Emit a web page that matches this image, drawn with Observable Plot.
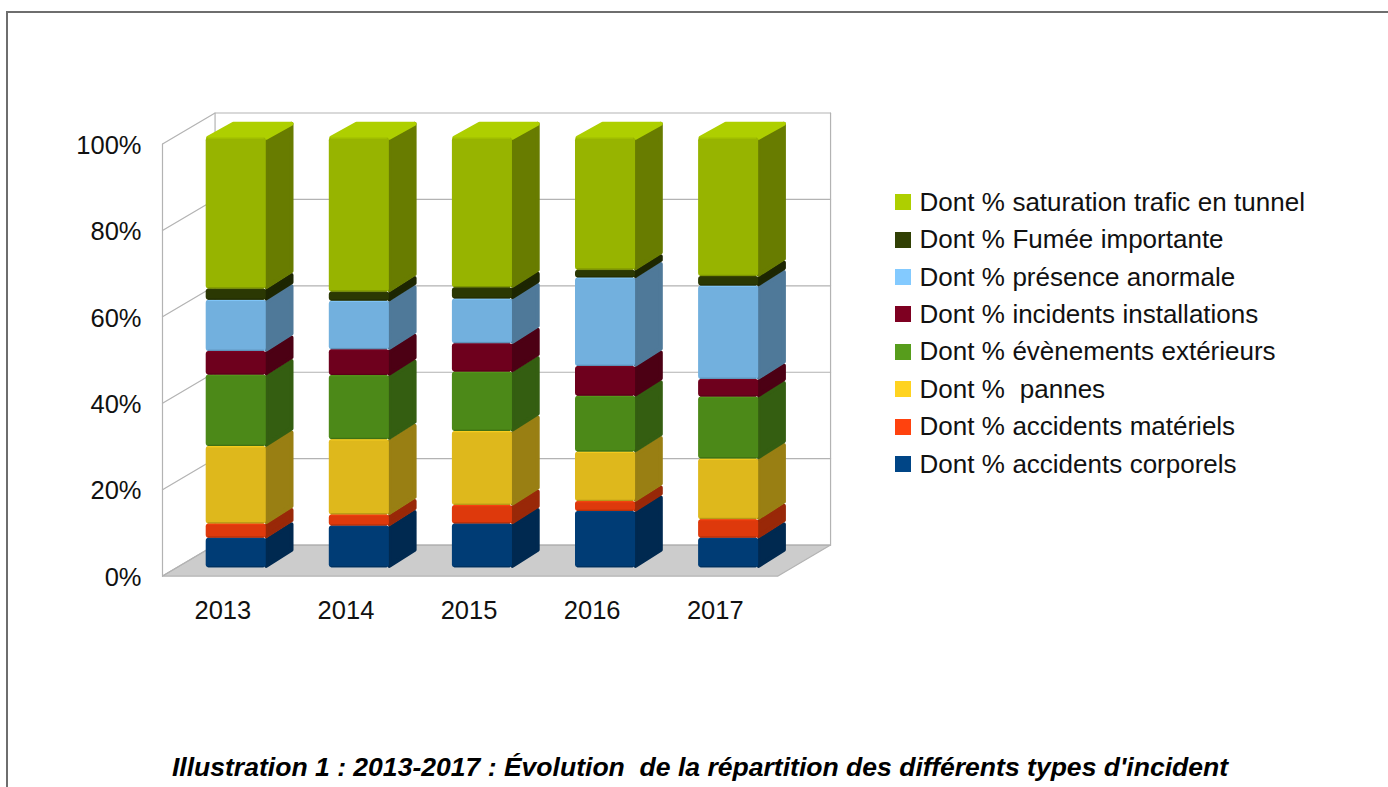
<!DOCTYPE html>
<html lang="fr">
<head>
<meta charset="utf-8">
<script src="https://cdn.jsdelivr.net/npm/d3@7"></script>
<script src="https://cdn.jsdelivr.net/npm/@observablehq/plot@0.6"></script>
<style>
  html, body { margin: 0; padding: 0; background: #fff; overflow: hidden; }
  body { width: 1388px; height: 787px; position: relative; font-family: "Liberation Sans", Arial, sans-serif; color: #000; }
  #frame { position: absolute; left: 6px; top: 11px; right: -4px; bottom: -4px; border: 2px solid #6e6e6e; }
  #chart { position: absolute; left: 0; top: 0; }
  #chart svg { display: block; overflow: visible; }
  #chart text { white-space: pre; }
  .soft { filter: blur(0.45px); }
  #legend { position: absolute; left: 895px; top: 183.5px; }
  .row { display: flex; align-items: center; height: 37.43px; font-size: 26px; white-space: pre; word-spacing: 0.2px; color: #111; }
  .sw { width: 16px; height: 16px; margin-right: 8.5px; flex: none; }
  #caption { position: absolute; left: 0; top: 752px; width: 1400px; text-align: center; font-size: 26.55px; font-weight: bold; font-style: italic; white-space: pre; }
</style>
</head>
<body>
<div id="frame"></div>
<div id="chart"></div>
<div id="legend"></div>
<div id="caption"></div>
<script>
const years = ["2013", "2014", "2015", "2016", "2017"];
const yTicks = [0, 20, 40, 60, 80, 100];
const corporels  = [6.9, 9.7, 10.2, 13.1, 6.9];
const materiels  = [3.3, 2.6, 4.3, 2.3, 4.3];
const pannes     = [18.0, 17.5, 17.2, 11.5, 14.1];
const exterieurs = [16.6, 14.9, 13.8, 13.0, 14.4];
const installs   = [5.5, 6.0, 6.6, 6.9, 4.1];
const presence   = [11.9, 11.3, 10.4, 20.6, 21.7];
const fumee      = [2.6, 2.1, 2.6, 1.8, 2.2];
const saturation = [35.2, 35.9, 34.9, 30.8, 32.3];
const seriesNames = ["Dont % accidents corporels", "Dont % accidents matériels", "Dont %  pannes", "Dont % évènements extérieurs", "Dont % incidents installations", "Dont % présence anormale", "Dont % Fumée importante", "Dont % saturation trafic en tunnel"];
const seriesValues = [corporels, materiels, pannes, exterieurs, installs, presence, fumee, saturation];
const seriesColors = ["#004586", "#ff420e", "#ffd320", "#579d1c", "#7e0021", "#83caff", "#314004", "#aecf00"];
const captionText = "Illustration 1 : 2013-2017 : Évolution  de la répartition des différents types d'incident";

// projection of the pseudo-3D box, in scale units
const wallDX = 0.427, wallDY = 7.18;
const barStart = 0.355, barW = 0.488, barDX = 0.221, barDY = 3.7, lift = 1.92, squeeze = 0.9954;
const insX = 0.016, insY = 0.46, bevel = 0.3;
const shade = (c, k) => { const r = d3.rgb(c); return d3.rgb(r.r * k, r.g * k, r.b * k).formatHex(); };

const fronts = [], highlights = [], sides = [], tops = [];
years.forEach((year, i) => {
  let cum = 0;
  seriesValues.forEach((vals, s) => {
    const y1 = lift + cum * squeeze;
    cum += vals[i];
    const y2 = lift + cum * squeeze;
    const x1 = i + barStart, x2 = x1 + barW;
    fronts.push({x1, x2, y1, y2, fill: shade(seriesColors[s], 0.87)});
    highlights.push({x1: x1 + insX, x2: x2 - insX, y1: y2 - bevel, y2: y2, fill: shade(seriesColors[s], 0.97)});
    highlights.push({x1: x1 + insX, x2: x2 - insX, y1: y1, y2: y1 + bevel, fill: shade(seriesColors[s], 0.72)});
    const side = shade(seriesColors[s], 0.6), id = year + "-" + s;
    [[x2, y1 + insY], [x2 + barDX - insX, y1 + barDY + insY], [x2 + barDX - insX, y2 + barDY - insY], [x2, y2 - insY], [x2, y1 + insY]]
      .forEach(([x, y]) => sides.push({id, x, y, fill: side}));
    if (s === seriesValues.length - 1) {
      [[x1 + insX, y2], [x2, y2], [x2 + barDX - insX, y2 + barDY - insY], [x1 + barDX, y2 + barDY - insY], [x1 + insX, y2]]
        .forEach(([x, y]) => tops.push({id, x, y, fill: seriesColors[s]}));
    }
  });
});

const n = years.length;
const floor = [[0, 0], [n, 0], [n + wallDX, wallDY], [wallDX, wallDY], [0, 0]].map(([x, y]) => ({x, y}));
const grid = yTicks.flatMap(v => [[0, v], [wallDX, v + wallDY], [n + wallDX, v + wallDY]].map(([x, y]) => ({id: v, x, y})));
const verticals = [0, wallDX, n + wallDX].flatMap(x => {
  const off = x === 0 ? 0 : wallDY;
  return [{id: x, x, y: off}, {id: x, x, y: 100 + off}];
});

const gridStroke = "#b3b3b3";
const plot = Plot.plot({
  width: 1388, height: 650,
  marginLeft: 162, marginRight: 1388 - 777.5, marginTop: 143.5, marginBottom: 650 - 575.6,
  x: {domain: [0, n], axis: null},
  y: {domain: [0, 100], axis: null},
  color: {type: "identity"},
  style: {background: "transparent", fontFamily: "'Liberation Sans', Arial, sans-serif", color: "#000"},
  marks: [
    Plot.line(floor, {x: "x", y: "y", fill: "#cccccc", stroke: gridStroke, strokeWidth: 1.2}),
    Plot.line(grid, {x: "x", y: "y", z: "id", stroke: gridStroke, strokeWidth: 1.2}),
    Plot.line(verticals, {x: "x", y: "y", z: "id", stroke: gridStroke, strokeWidth: 1.2}),
    Plot.line(sides, {x: "x", y: "y", z: "id", fill: "fill", stroke: "fill", strokeWidth: 4, className: "soft"}),
    Plot.line(tops, {x: "x", y: "y", z: "id", fill: "fill", stroke: "fill", strokeWidth: 4, className: "soft"}),
    Plot.rect(fronts, {x1: "x1", x2: "x2", y1: "y1", y2: "y2", fill: "fill", rx: 3, className: "soft"}),
    Plot.rect(highlights, {x1: "x1", x2: "x2", y1: "y1", y2: "y2", fill: "fill", className: "soft"}),
    Plot.axisY({ticks: yTicks, tickSize: 0, tickPadding: 20, fontSize: 25.5, dx: -1, dy: 1.5, fill: "#111", tickFormat: d => d + "%", label: null}),
    Plot.axisX({ticks: years.map((_, i) => i + 0.5), tickSize: 0, tickPadding: 24.5, fontSize: 25.5, dx: -1.2, fill: "#111", tickFormat: (d) => years[Math.floor(d)], label: null})
  ]
});
document.getElementById("chart").appendChild(plot);

const legend = document.getElementById("legend");
seriesNames.map((name, i) => [name, seriesColors[i]]).reverse().forEach(([name, color]) => {
  const row = document.createElement("div");
  row.className = "row";
  const sw = document.createElement("span");
  sw.className = "sw";
  sw.style.background = color;
  const label = document.createElement("span");
  label.textContent = name;
  row.append(sw, label);
  legend.appendChild(row);
});
document.getElementById("caption").textContent = captionText;
</script>
</body>
</html>
